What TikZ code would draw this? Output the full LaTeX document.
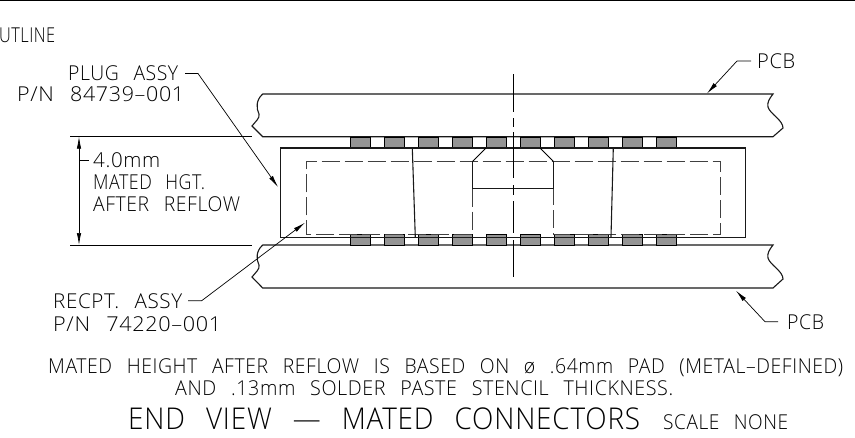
\documentclass[tikz,border=0pt]{standalone}
\usepackage{fontspec}
\setmainfont{Open Sans}[UprightFont=* Light,LetterSpace=3,WordSpace=2.6]
\usetikzlibrary{arrows.meta}
\newbox\fitbox
\newcommand\fitw[2]{\setbox\fitbox\hbox{#2}\pgfmathsetmacro\fitsx{#1/\the\wd\fitbox}\scalebox{\fitsx}[1]{\box\fitbox}}
\tikzset{
  px/.style={x=1pt,y=-1pt},
  lab/.style={inner sep=0pt,font=\fontsize{20.5}{20.5}\selectfont,text=black,anchor=base west},
  titlelab/.style={lab,font=\fontsize{30}{30}\selectfont},
  obj/.style={draw=black!90,line width=1.1pt},
  thinline/.style={draw=black,line width=0.8pt},
  dashline/.style={draw=black!75,line width=0.95pt,dash pattern=on 18pt off 5pt},
  lead/.style={draw=black,line width=0.7pt,-{Latex[length=12pt,width=4.5pt]}},
  dimline/.style={draw=black,line width=0.7pt,{Latex[length=12pt,width=4.5pt]}-{Latex[length=12pt,width=4.5pt]}},
  padbox/.style={draw=black,line width=0.9pt,fill=black!42,minimum width=20pt,minimum height=11.5pt,inner sep=0pt}
}
\begin{document}
\begin{tikzpicture}[px]
\useasboundingbox (0,0) rectangle (855,437);
\fill[white] (0,0) rectangle (855,437);
\draw[line width=1.4pt] (0,0.6) -- (855,0.6);
% text
\node[lab] (outl) at (-14,42.5) {\fitw{69}{OUTLINE}};
\node[lab] (plug) at (68,80) {\fitw{110}{PLUG ASSY}};
\node[lab] (plugpn) at (17,101.5) {\fitw{167}{P/N 84739–001}};
\node[lab] (h1) at (93,167.5) {\fitw{67}{4.0mm}};
\node[lab] (h2) at (93,189) {\fitw{112}{MATED HGT.}};
\node[lab] (h3) at (93,211) {\fitw{147}{AFTER REFLOW}};
\node[lab] (rec) at (53,308) {\fitw{129}{RECPT. ASSY}};
\node[lab] (recpn) at (53,331) {\fitw{168}{P/N 74220–001}};
\node[lab] (pcb1) at (757,68) {\fitw{38}{PCB}};
\node[lab] (pcb2) at (787,329) {\fitw{37}{PCB}};
\node[lab] (n1) at (48,373) {\fitw{795}{MATED HEIGHT AFTER REFLOW IS BASED ON ø .64mm PAD (METAL–DEFINED)}};
\node[lab] (n2) at (175,395) {\fitw{498}{AND .13mm SOLDER PASTE STENCIL THICKNESS.}};
\node[titlelab] (title) at (128,429) {\fitw{512}{END VIEW — MATED CONNECTORS}};
\node[lab] (sc) at (663,429) {\fitw{125}{SCALE NONE}};
% PCBs
\foreach \yt/\yb in {94/136.7,245/288}{
  \draw[obj] (262.7,\yt)--(773,\yt)
    .. controls (769,\yt+5) and (767,\yt+9) .. (768,\yt+13)
    .. controls (770,\yt+20) and (783,\yt+26) .. (783,\yt+34)
    -- (773,\yb) -- (262.7,\yb) -- (252,\yt+32)
    .. controls (256,\yt+27) and (260,\yt+24) .. (259,\yt+20)
    .. controls (256,\yt+14) and (256,\yt+6) .. (262.7,\yt);
}
% pads
\foreach \i in {0,...,9}{
  \node[padbox,anchor=north west] (pt\i) at (350+34*\i,136.7) {};
  \node[padbox,anchor=north west] (pb\i) at (350+34*\i,233.5) {};
}
% connector
\draw[obj] (280.7,148) rectangle (745.3,237.7);
\draw[dashline] (472.7,188.7) -- (472.7,234) -- (306.7,234) -- (306.7,161.3) -- (720,161.3) -- (720,234) -- (553.3,234) -- (553.3,188.7);
\draw[obj] (472.7,161.3) -- (472.7,188.7) -- (553.3,188.7) -- (553.3,161.3);
\draw[thinline] (486,148) -- (472.7,161.3) (553.3,161.3) -- (540,148);
\draw[obj] (412.3,148) -- (415.3,237);
\draw[obj] (613.3,148) -- (611,237);
% centre line
\draw[thinline] (513.3,74) -- (513.3,112) (513.3,118) -- (513.3,127) (513.3,132) -- (513.3,178) (513.3,185) -- (513.3,195) (513.3,201) -- (513.3,233) (513.3,240) -- (513.3,277);
% dimensions
\draw[thinline] (70,136.7) -- (252,136.7) (70,245) -- (252,245);
\draw[dimline] (79,136.7) -- (79,245);
\draw[thinline] (79,160.7) -- (89,160.7);
% leaders
\draw[lead] (185,73.5) -- (198,73.5) -- (278,187);
\draw[lead] (188,300.7) -- (201.7,300.7) -- (305,222.7);
\draw[lead] (751,61) -- (737,61) -- (707,93.5);
\draw[lead] (778,321.7) -- (765,321.7) -- (736,290.7);
\end{tikzpicture}
\end{document}
